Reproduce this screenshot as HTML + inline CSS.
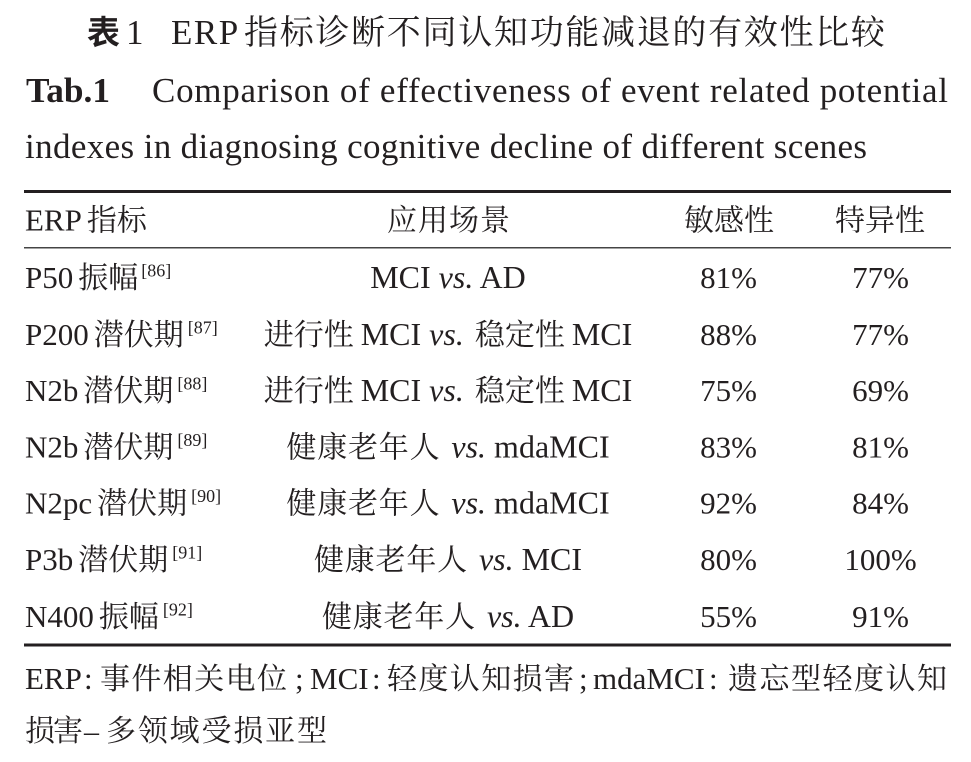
<!DOCTYPE html>
<html>
<head>
<meta charset="utf-8">
<style>
html,body{margin:0;padding:0;background:#fff;}
svg{display:block;}
text{font-family:"Liberation Serif","Noto Serif CJK SC",serif;fill:#231f20;}
.b{font-size:31px;}
.b2{font-size:32px;}
.c{font-size:30px;}
.s{font-size:18px;}
.i{font-style:italic;}
.t{font-size:35px;}
.ct{font-size:34px;letter-spacing:1.7px;}
.f{font-size:30px;}
.fl{font-size:31px;}
</style>
</head>
<body>
<svg width="971" height="762" viewBox="0 0 971 762" xmlns="http://www.w3.org/2000/svg">
<rect x="0" y="0" width="971" height="762" fill="#fff"/>

<!-- Title -->
<text x="87" y="44" style="font-family:'Noto Sans CJK SC',sans-serif;font-weight:700;font-size:33px;">表</text>
<text x="126" y="44" class="t">1</text>
<text x="171" y="44" class="t" style="letter-spacing:1.5px;">ERP</text>
<text x="244" y="44" class="ct">指标诊断不同认知功能减退的有效性比较</text>

<!-- English title -->
<text x="26" y="102" style="font-size:35px;font-weight:700;" textLength="84" lengthAdjust="spacingAndGlyphs">Tab.1</text>
<text x="152" y="102" style="font-size:35px;" textLength="796" lengthAdjust="spacing">Comparison of effectiveness of event related potential</text>
<text x="25" y="158" style="font-size:35px;" textLength="842" lengthAdjust="spacing">indexes in diagnosing cognitive decline of different scenes</text>

<!-- Rules -->
<rect x="24" y="190" width="927" height="3" fill="#231f20"/>
<rect x="24" y="247" width="927" height="1.5" fill="#444"/>
<rect x="24" y="643.5" width="927" height="3" fill="#231f20"/>

<!-- Header -->
<text x="25" y="230.7" class="b">ERP<tspan class="c" dx="5">指标</tspan></text>
<text x="449" y="230.7" class="c" text-anchor="middle" style="letter-spacing:1px;">应用场景</text>
<text x="729" y="230.7" class="c" text-anchor="middle">敏感性</text>
<text x="880" y="230.7" class="c" text-anchor="middle">特异性</text>

<!-- Row 1 -->
<text x="25" y="288" class="b">P50<tspan class="c" dx="5">振幅</tspan><tspan class="s" dx="3" dy="-11.5">[86]</tspan></text>
<text x="448" y="288" class="b2" text-anchor="middle">MCI <tspan class="i">vs.</tspan> AD</text>
<text x="728.5" y="288" class="b" text-anchor="middle">81%</text>
<text x="880.5" y="288" class="b" text-anchor="middle">77%</text>

<!-- Row 2 -->
<text x="25" y="345" class="b">P200<tspan class="c" dx="5">潜伏期</tspan><tspan class="s" dx="4" dy="-11.5">[87]</tspan></text>
<text x="448" y="345" class="b2" text-anchor="middle"><tspan class="c">进行性</tspan><tspan dx="7">MCI </tspan><tspan class="i">vs.</tspan><tspan> </tspan><tspan class="c" dx="3">稳定性</tspan><tspan dx="7">MCI</tspan></text>
<text x="728.5" y="345" class="b" text-anchor="middle">88%</text>
<text x="880.5" y="345" class="b" text-anchor="middle">77%</text>

<!-- Row 3 -->
<text x="25" y="401" class="b">N2b<tspan class="c" dx="5">潜伏期</tspan><tspan class="s" dx="4" dy="-11.5">[88]</tspan></text>
<text x="448" y="401" class="b2" text-anchor="middle"><tspan class="c">进行性</tspan><tspan dx="7">MCI </tspan><tspan class="i">vs.</tspan><tspan> </tspan><tspan class="c" dx="3">稳定性</tspan><tspan dx="7">MCI</tspan></text>
<text x="728.5" y="401" class="b" text-anchor="middle">75%</text>
<text x="880.5" y="401" class="b" text-anchor="middle">69%</text>

<!-- Row 4 -->
<text x="25" y="457.5" class="b">N2b<tspan class="c" dx="5">潜伏期</tspan><tspan class="s" dx="4" dy="-11.5">[89]</tspan></text>
<text x="448" y="457.5" class="b2" text-anchor="middle"><tspan class="c" style="letter-spacing:0.8px;">健康老年人</tspan><tspan dx="3"> </tspan><tspan class="i">vs.</tspan> mdaMCI</text>
<text x="728.5" y="457.5" class="b" text-anchor="middle">83%</text>
<text x="880.5" y="457.5" class="b" text-anchor="middle">81%</text>

<!-- Row 5 -->
<text x="25" y="513.5" class="b">N2pc<tspan class="c" dx="5">潜伏期</tspan><tspan class="s" dx="4" dy="-11.5">[90]</tspan></text>
<text x="448" y="513.5" class="b2" text-anchor="middle"><tspan class="c" style="letter-spacing:0.8px;">健康老年人</tspan><tspan dx="3"> </tspan><tspan class="i">vs.</tspan> mdaMCI</text>
<text x="728.5" y="513.5" class="b" text-anchor="middle">92%</text>
<text x="880.5" y="513.5" class="b" text-anchor="middle">84%</text>

<!-- Row 6 -->
<text x="25" y="570" class="b">P3b<tspan class="c" dx="5">潜伏期</tspan><tspan class="s" dx="4" dy="-11.5">[91]</tspan></text>
<text x="448" y="570" class="b2" text-anchor="middle"><tspan class="c" style="letter-spacing:0.8px;">健康老年人</tspan><tspan dx="3"> </tspan><tspan class="i">vs.</tspan> MCI</text>
<text x="728.5" y="570" class="b" text-anchor="middle">80%</text>
<text x="880.5" y="570" class="b" text-anchor="middle">100%</text>

<!-- Row 7 -->
<text x="25" y="627" class="b">N400<tspan class="c" dx="5">振幅</tspan><tspan class="s" dx="4" dy="-11.5">[92]</tspan></text>
<text x="448" y="627" class="b2" text-anchor="middle"><tspan class="c" style="letter-spacing:0.8px;">健康老年人</tspan><tspan dx="3"> </tspan><tspan class="i">vs.</tspan> AD</text>
<text x="728.5" y="627" class="b" text-anchor="middle">55%</text>
<text x="880.5" y="627" class="b" text-anchor="middle">91%</text>

<!-- Footnote line 1 -->
<text x="25" y="689" class="fl">ERP</text>
<text x="84" y="689" class="fl">:</text>
<text x="100" y="689" class="f" textLength="187" lengthAdjust="spacing">事件相关电位</text>
<text x="295" y="689" class="fl">;</text>
<text x="310" y="689" class="fl">MCI</text>
<text x="372" y="689" class="fl">:</text>
<text x="387" y="689" class="f" textLength="187" lengthAdjust="spacing">轻度认知损害</text>
<text x="579" y="689" class="fl">;</text>
<text x="593" y="689" class="fl">mdaMCI</text>
<text x="709" y="689" class="fl">:</text>
<text x="728" y="689" class="f" textLength="219" lengthAdjust="spacing">遗忘型轻度认知</text>

<!-- Footnote line 2 -->
<text x="25" y="741" class="f" textLength="58" lengthAdjust="spacing">损害</text>
<text x="84" y="741" class="f">–</text>
<text x="106" y="741" class="f" textLength="221" lengthAdjust="spacing">多领域受损亚型</text>
</svg>
</body>
</html>
